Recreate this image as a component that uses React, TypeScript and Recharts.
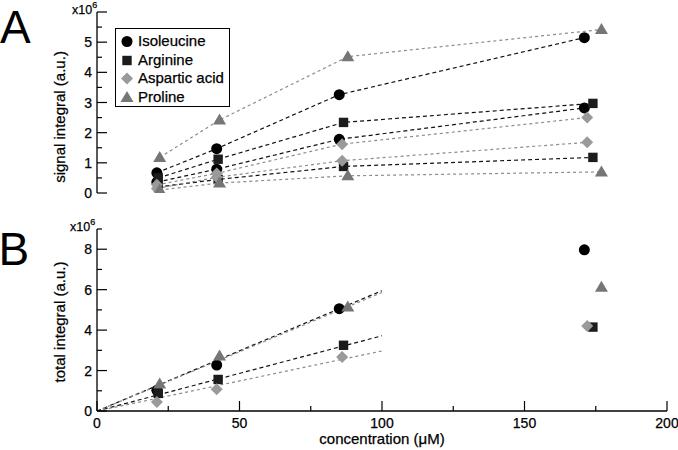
import React from 'react';
import { ComposedChart, Scatter, Line, XAxis, YAxis, Legend } from 'recharts';

const FONT = '"Liberation Sans", Arial, Helvetica, sans-serif';

// concentration (uM) of each sample, per amino acid
const concIle = [21, 42, 85, 171];
const concArg = [21.5, 42.5, 86.5, 174];
const concAsp = [21, 42, 86, 172];
const concPro = [22, 43, 88, 177];

// panel A: signal integral (x10^6), two signals per amino acid
const ileSignalHigh = [0.67, 1.47, 3.26, 5.15];
const ileSignalLow = [0.36, 0.79, 1.78, 2.82];
const argSignalHigh = [0.5, 1.12, 2.34, 2.97];
const argSignalLow = [0.2, 0.45, 0.88, 1.18];
const aspSignalHigh = [0.27, 0.65, 1.62, 2.5];
const aspSignalLow = [0.15, 0.52, 1.07, 1.68];
const proSignalHigh = [1.18, 2.42, 4.52, 5.42];
const proSignalLow = [0.1, 0.33, 0.57, 0.7];

// panel B: total integral (x10^6)
const ileTotal = [1.02, 2.27, 5.06, 7.97];
const argTotal = [0.87, 1.56, 3.25, 4.15];
const aspTotal = [0.44, 1.08, 2.67, 4.2];
const proTotal = [1.33, 2.72, 5.14, 6.12];

// panel B: linear fits through the origin, 0..100 uM
const fitConc = [0, 100];
const ileFit = [0, 5.95];
const proFit = [0, 5.86];
const argFit = [0, 3.72];
const aspFit = [0, 2.97];

const names = ['Isoleucine', 'Arginine', 'Aspartic acid', 'Proline'];
const kinds = ['circle', 'square', 'diamond', 'triangle'];

const xTicks = [0, 25, 50, 75, 100, 125, 150, 175, 200];
const yTicksA = [0, 0.5, 1, 1.5, 2, 2.5, 3, 3.5, 4, 4.5, 5, 5.5, 6];
const yTicksB = [0, 1, 2, 3, 4, 5, 6, 7, 8, 9];

const STYLE: Record<string, { fill: string; line: string; dash: string }> = {
  circle: { fill: '#000', line: '#111', dash: '4 3' },
  square: { fill: '#1c1c1c', line: '#111', dash: '4 3' },
  diamond: { fill: '#9a9a9a', line: '#8c8c8c', dash: '3 3' },
  triangle: { fill: '#767676', line: '#8c8c8c', dash: '3 3' },
};

const pts = (xs: number[], ys: number[]) => xs.map((x, i) => ({ x, y: ys[i] }));

const Marker = ({ kind, cx, cy }: { kind: string; cx: number; cy: number }) => {
  const fill = STYLE[kind].fill;
  if (kind === 'circle') return <circle cx={cx} cy={cy} r={5.5} fill={fill} />;
  if (kind === 'square') return <rect x={cx - 4.7} y={cy - 4.7} width={9.4} height={9.4} fill={fill} />;
  if (kind === 'diamond')
    return <polygon points={`${cx},${cy - 6} ${cx + 6},${cy} ${cx},${cy + 6} ${cx - 6},${cy}`} fill={fill} />;
  return <polygon points={`${cx},${cy - 6.5} ${cx + 6.5},${cy + 4.5} ${cx - 6.5},${cy + 4.5}`} fill={fill} />;
};

const seriesA = [
  { kind: 'circle', xs: concIle, ys: ileSignalHigh },
  { kind: 'circle', xs: concIle, ys: ileSignalLow },
  { kind: 'square', xs: concArg, ys: argSignalHigh },
  { kind: 'square', xs: concArg, ys: argSignalLow },
  { kind: 'diamond', xs: concAsp, ys: aspSignalHigh },
  { kind: 'diamond', xs: concAsp, ys: aspSignalLow },
  { kind: 'triangle', xs: concPro, ys: proSignalHigh },
  { kind: 'triangle', xs: concPro, ys: proSignalLow },
];

const seriesB = [
  { kind: 'circle', xs: concIle, ys: ileTotal, fit: ileFit },
  { kind: 'square', xs: concArg, ys: argTotal, fit: argFit },
  { kind: 'diamond', xs: concAsp, ys: aspTotal, fit: aspFit },
  { kind: 'triangle', xs: concPro, ys: proTotal, fit: proFit },
];

const tickText = { fontFamily: FONT, fontSize: 14, fill: '#000', stroke: '#000', strokeWidth: 0.25 };
const frame = { stroke: '#000', strokeWidth: 1.3 };

// ticks are drawn inward from the frame
const makeXTick = (side: 'top' | 'bottom', labels: boolean) => (p: any) => {
  const v = p.payload.value;
  const major = v % 50 === 0;
  const len = major ? 10 : 5;
  const dir = side === 'bottom' ? -1 : 1;
  return (
    <g>
      <line x1={p.x} x2={p.x} y1={p.y} y2={p.y + dir * len} stroke="#000" strokeWidth={1.2} />
      {labels && major && (
        <text x={p.x} y={p.y + 17} textAnchor="middle" {...tickText}>
          {v}
        </text>
      )}
    </g>
  );
};

const makeYTick = (side: 'left' | 'right', isMajor: (v: number) => boolean, hasLabel: (v: number) => boolean) => (p: any) => {
  const v = p.payload.value;
  const len = isMajor(v) ? 10 : 5;
  const dir = side === 'left' ? 1 : -1;
  return (
    <g>
      <line x1={p.x} x2={p.x + dir * len} y1={p.y} y2={p.y} stroke="#000" strokeWidth={1.2} />
      {side === 'left' && hasLabel(v) && (
        <text x={p.x - 5} y={p.y + 5} textAnchor="end" {...tickText}>
          {v}
        </text>
      )}
    </g>
  );
};

const LegendBox = () => (
  <div
    style={{
      width: 115,
      height: 79,
      boxSizing: 'border-box',
      border: '1.3px solid #000',
      background: '#fff',
      paddingTop: 3,
      paddingLeft: 4,
      fontFamily: FONT,
      fontSize: 15,
      lineHeight: '18.5px',
      color: '#000',
      WebkitTextStroke: '0.25px #000',
    }}
  >
    {names.map((n, i) => (
      <div key={n} style={{ display: 'flex', alignItems: 'center', whiteSpace: 'nowrap' }}>
        <svg width={14} height={14} style={{ marginRight: 4 }}>
          <Marker kind={kinds[i]} cx={7} cy={7.5} />
        </svg>
        <span>{n}</span>
      </div>
    ))}
  </div>
);

const frameAxes = (yDomain: number[], yTicks: number[], isMajor: (v: number) => boolean, hasLabel: (v: number) => boolean, xLabels: boolean, xHeight: number) => [
  <XAxis
    key="xb"
    xAxisId={0}
    dataKey="x"
    type="number"
    domain={[0, 200]}
    ticks={xTicks}
    interval={0}
    allowDataOverflow
    height={xHeight}
    tickSize={0}
    tickMargin={0}
    tickLine={false}
    axisLine={frame}
    tick={makeXTick('bottom', xLabels)}
  />,
  <XAxis
    key="xt"
    xAxisId="top"
    orientation="top"
    type="number"
    domain={[0, 200]}
    ticks={xTicks}
    interval={0}
    allowDataOverflow
    height={0}
    tickSize={0}
    tickMargin={0}
    tickLine={false}
    axisLine={frame}
    tick={makeXTick('top', false)}
  />,
  <YAxis
    key="yl"
    yAxisId={0}
    dataKey="y"
    type="number"
    domain={yDomain}
    ticks={yTicks}
    interval={0}
    allowDataOverflow
    width={97}
    tickSize={0}
    tickMargin={0}
    tickLine={false}
    axisLine={frame}
    tick={makeYTick('left', isMajor, hasLabel)}
  />,
  <YAxis
    key="yr"
    yAxisId="right"
    orientation="right"
    type="number"
    domain={yDomain}
    ticks={yTicks}
    interval={0}
    allowDataOverflow
    width={0}
    tickSize={0}
    tickMargin={0}
    tickLine={false}
    axisLine={frame}
    tick={makeYTick('right', isMajor, hasLabel)}
  />,
];

export default function App() {
  return (
    <div style={{ position: 'absolute', left: 0, top: 0, width: 678, height: 450, background: '#fff', fontFamily: FONT }}>
      <div style={{ position: 'absolute', left: 0, top: 0 }}>
        <ComposedChart width={678} height={200} margin={{ top: 12, right: 11, bottom: 7, left: 0 }}>
          {frameAxes([0, 6], yTicksA, (v) => Number.isInteger(v), (v) => Number.isInteger(v) && v <= 5, false, 0)}
          {seriesA.map((s, i) => (
            <Scatter
              key={`a${i}`}
              data={pts(s.xs, s.ys)}
              line={{ stroke: STYLE[s.kind].line, strokeDasharray: STYLE[s.kind].dash, strokeWidth: 1.2 }}
              lineType="joint"
              shape={(p: any) => <Marker kind={s.kind} cx={p.cx} cy={p.cy} />}
              isAnimationActive={false}
            />
          ))}
          <Legend
            layout="horizontal"
            verticalAlign="middle"
            align="center"
            wrapperStyle={{ left: 115, top: 28, width: 115 }}
            content={() => <LegendBox />}
          />
        </ComposedChart>
      </div>
      <div style={{ position: 'absolute', left: 0, top: 200 }}>
        <ComposedChart width={678} height={250} margin={{ top: 29, right: 11, bottom: 0, left: 0 }}>
          {frameAxes([0, 9], yTicksB, (v) => v % 2 === 0, (v) => v % 2 === 0 && v <= 8, true, 39)}
          {seriesB.map((s, i) => (
            <Line
              key={`f${i}`}
              data={pts(fitConc, s.fit)}
              dataKey="y"
              stroke={STYLE[s.kind].line}
              strokeDasharray={STYLE[s.kind].dash}
              strokeWidth={1.2}
              dot={false}
              activeDot={false}
              isAnimationActive={false}
            />
          ))}
          {seriesB.map((s, i) => (
            <Scatter
              key={`b${i}`}
              data={pts(s.xs, s.ys)}
              shape={(p: any) => <Marker kind={s.kind} cx={p.cx} cy={p.cy} />}
              isAnimationActive={false}
            />
          ))}
        </ComposedChart>
      </div>
      <svg
        width={678}
        height={450}
        style={{ position: 'absolute', left: 0, top: 0, pointerEvents: 'none' }}
        fontFamily={FONT}
        stroke="#000"
        strokeWidth={0.25}
      >
        <text x={0} y={43} fontSize={46} strokeWidth={0}>A</text>
        <text x={-1.5} y={265} fontSize={46} strokeWidth={0}>B</text>
        <text x={72} y={14} fontSize={12.5}>
          x10<tspan dy={-6} fontSize={9}>6</tspan>
        </text>
        <text x={70} y={231} fontSize={12.5}>
          x10<tspan dy={-6} fontSize={9}>6</tspan>
        </text>
        <text transform="translate(65,117) rotate(-90)" textAnchor="middle" fontSize={15}>
          signal integral (a.u.)
        </text>
        <text transform="translate(65,322) rotate(-90)" textAnchor="middle" fontSize={15}>
          total integral (a.u.)
        </text>
        <text x={382} y={444} textAnchor="middle" fontSize={15}>
          concentration (μM)
        </text>
      </svg>
    </div>
  );
}
